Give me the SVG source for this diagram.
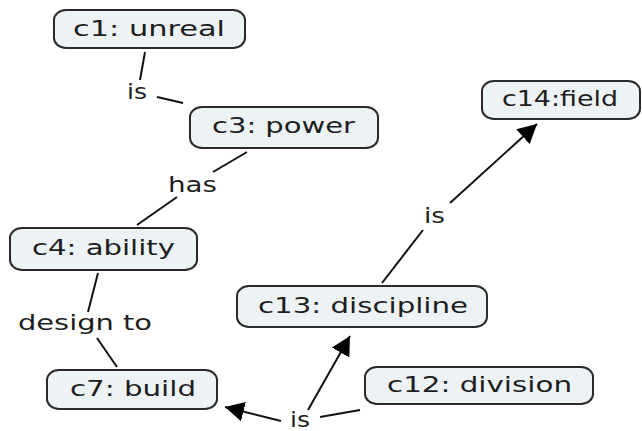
<svg xmlns="http://www.w3.org/2000/svg" width="642" height="431" viewBox="0 0 642 431">
  <style>
    .node rect { fill: #edf2f5; stroke: #2a2a2a; stroke-width: 2; }
    .node text { font-family: "DejaVu Sans", Verdana, sans-serif; font-size: 21px; fill: #1e1e1e; }
    .lbl { font-family: "DejaVu Sans", Verdana, sans-serif; font-size: 21px; fill: #1e1e1e; }
    .conn line { stroke: #111; stroke-width: 2; fill: none; }
  </style>
  <defs>
    <marker id="arrow" markerUnits="userSpaceOnUse" markerWidth="20" markerHeight="20" refX="19" refY="10" orient="auto">
      <path d="M0,0 L19,10 L0,20 z" fill="#000"/>
    </marker>
  </defs>
  <rect width="642" height="431" fill="#fff"/>

  <g id="connectors" class="conn">
    <!-- c1 -> c3 via "is" -->
    <line x1="145" y1="52" x2="140" y2="80"/>
    <line x1="157" y1="97" x2="183" y2="103"/>
    <!-- c3 -> c4 via "has" -->
    <line x1="247" y1="152" x2="213" y2="172"/>
    <line x1="177" y1="197" x2="137" y2="225"/>
    <!-- c4 -> c7 via "design to" -->
    <line x1="98" y1="273" x2="88" y2="312"/>
    <line x1="97" y1="338" x2="117" y2="367"/>
    <!-- c13 -> c14 via "is" -->
    <line x1="382" y1="283" x2="423" y2="230"/>
    <line x1="450" y1="203" x2="537" y2="124" marker-end="url(#arrow)"/>
    <!-- c12 -> c7, c13 via "is" -->
    <line x1="360" y1="410" x2="320" y2="417"/>
    <line x1="281" y1="421" x2="225" y2="407" marker-end="url(#arrow)"/>
    <line x1="308" y1="410" x2="350" y2="336" marker-end="url(#arrow)"/>
    <text class="lbl" x="127" y="99" textLength="20" lengthAdjust="spacingAndGlyphs">is</text>
    <text class="lbl" x="168" y="192" textLength="49" lengthAdjust="spacingAndGlyphs">has</text>
    <text class="lbl" x="18" y="330" textLength="134" lengthAdjust="spacingAndGlyphs">design to</text>
    <text class="lbl" x="424" y="223" textLength="21" lengthAdjust="spacingAndGlyphs">is</text>
    <text class="lbl" x="290" y="427" textLength="20" lengthAdjust="spacingAndGlyphs">is</text>
  </g>

  <g id="c1" class="node">
    <rect x="54" y="10" width="191" height="38" rx="12" ry="10"/>
    <text x="73" y="36" textLength="152" lengthAdjust="spacingAndGlyphs">c1: unreal</text>
  </g>
  <g id="c3" class="node">
    <rect x="190" y="107" width="188" height="41" rx="12" ry="10"/>
    <text x="212" y="133" textLength="143" lengthAdjust="spacingAndGlyphs">c3: power</text>
  </g>
  <g id="c4" class="node">
    <rect x="10" y="228" width="187" height="42" rx="12" ry="10"/>
    <text x="32" y="255" textLength="143" lengthAdjust="spacingAndGlyphs">c4: ability</text>
  </g>
  <g id="c7" class="node">
    <rect x="47" y="370" width="170" height="39" rx="12" ry="10"/>
    <text x="70" y="396" textLength="126" lengthAdjust="spacingAndGlyphs">c7: build</text>
  </g>
  <g id="c13" class="node">
    <rect x="237" y="286" width="250" height="41" rx="12" ry="10"/>
    <text x="258" y="313" textLength="210" lengthAdjust="spacingAndGlyphs">c13: discipline</text>
  </g>
  <g id="c14" class="node">
    <rect x="482" y="81" width="158" height="38" rx="12" ry="10"/>
    <text x="502" y="106" textLength="116" lengthAdjust="spacingAndGlyphs">c14:field</text>
  </g>
  <g id="c12" class="node">
    <rect x="365" y="367" width="228" height="37" rx="12" ry="10"/>
    <text x="387" y="392" textLength="185" lengthAdjust="spacingAndGlyphs">c12: division</text>
  </g>
</svg>
